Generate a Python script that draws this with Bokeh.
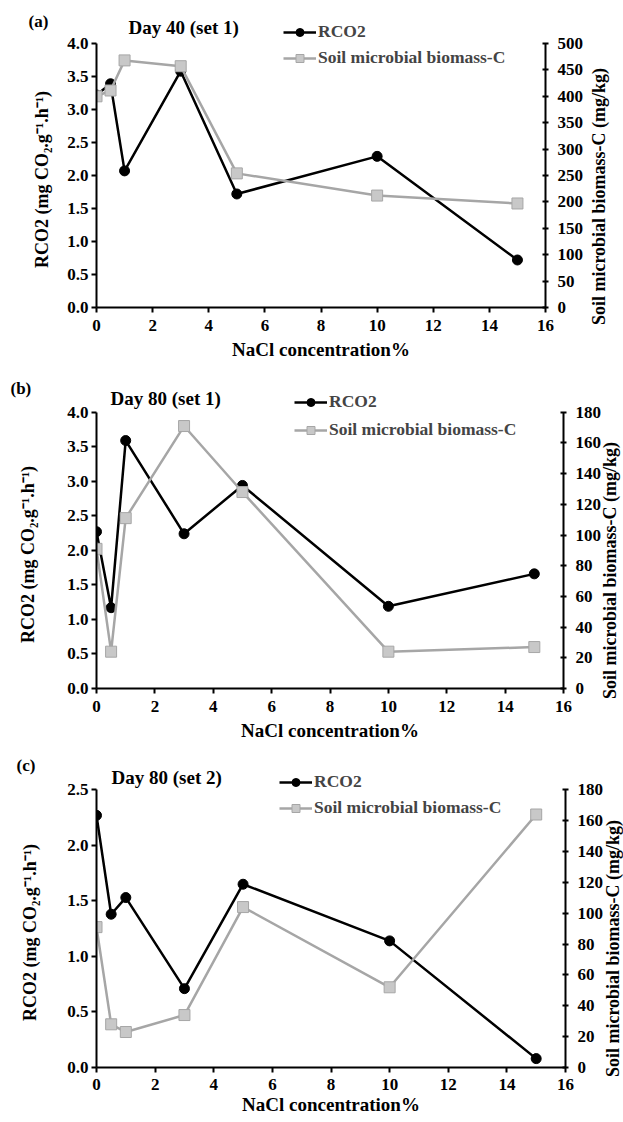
import math
from bokeh.plotting import figure
from bokeh.models import (LinearAxis, Range1d, Label, Legend, LegendItem,
                          FixedTicker, NumeralTickFormatter)
from bokeh.layouts import column
from bokeh.embed import file_html
from bokeh.resources import INLINE

FONT = "Liberation Serif"
GREY = "#a6a6a6"
GREY_FILL = "#c8c8c8"

# ---- data ----
nacl = [0, 0.5, 1, 3, 5, 10, 15]
rco2_a = [3.22, 3.39, 2.07, 3.58, 1.72, 2.29, 0.72]
smb_a = [400, 411, 468, 457, 254, 212, 197]
rco2_b = [2.27, 1.17, 3.59, 2.24, 2.94, 1.19, 1.66]
smb_b = [91, 24, 111, 171, 128, 24, 27]
rco2_c = [2.27, 1.38, 1.53, 0.71, 1.65, 1.14, 0.08]
smb_c = [91, 28, 23, 34, 104, 52, 164]

x_ticks = [0, 2, 4, 6, 8, 10, 12, 14, 16]
left_ticks_ab = [0.0, 0.5, 1.0, 1.5, 2.0, 2.5, 3.0, 3.5, 4.0]
left_ticks_c = [0.0, 0.5, 1.0, 1.5, 2.0, 2.5]
right_ticks_a = [0, 50, 100, 150, 200, 250, 300, 350, 400, 450, 500]
right_ticks_bc = [0, 20, 40, 60, 80, 100, 120, 140, 160, 180]

tags = ["(a)", "(b)", "(c)"]
titles = ["Day 40 (set 1)", "Day 80 (set 1)", "Day 80 (set 2)"]
series_names = ["RCO2", "Soil microbial biomass-C"]
x_label = "NaCl concentration%"
y_label = "RCO2 (mg CO\u2082.g\u207b\u00b9.h\u207b\u00b9)"
r_label = "Soil microbial biomass-C (mg/kg)"


def style_axis(ax, tick_in, tick_out, standoff):
    ax.axis_line_width = 2
    ax.axis_line_color = "black"
    ax.major_tick_line_width = 2
    ax.major_tick_line_color = "black"
    ax.major_tick_in = tick_in
    ax.major_tick_out = tick_out
    ax.minor_tick_line_color = None
    ax.major_label_standoff = standoff
    ax.major_label_text_font = FONT
    ax.major_label_text_font_style = "bold"
    ax.major_label_text_font_size = "17px"
    ax.major_label_text_color = "black"
    ax.axis_label_text_font = FONT
    ax.axis_label_text_font_style = "bold"
    ax.axis_label_text_font_size = "19px"
    ax.axis_label_text_color = "black"


def text_label(text, xy, size, **kw):
    return Label(x=xy[0], y=xy[1], x_units="screen", y_units="screen", text=text,
                 text_font=FONT, text_font_style="bold", text_font_size=size,
                 text_color="black", **kw)


def make_panel(rco2, smb, ymax, ytop, left_ticks, rmax, right_ticks, tag, title,
               fw, fh, bl, br, bt, bb, leg_xy, leg_spacing, title_xy, tag_xy,
               ylab_xy, rlab_xy, xtick_so, xlab_so):
    p = figure(frame_width=fw, frame_height=fh,
               min_border_left=bl, min_border_right=br,
               min_border_top=bt, min_border_bottom=bb,
               x_range=Range1d(0, 16), y_range=Range1d(0, ytop),
               output_backend="svg", toolbar_location=None)
    p.outline_line_color = None
    p.background_fill_color = "white"
    p.border_fill_color = "white"
    p.grid.visible = False
    p.extra_y_ranges = {"smb": Range1d(0, rmax * ytop / ymax)}

    l1 = p.line(nacl, rco2, line_color="black", line_width=2.5)
    s1 = p.scatter(nacl, rco2, marker="circle", size=10,
                   fill_color="black", line_color="black")
    l2 = p.line(nacl, smb, y_range_name="smb", line_color=GREY, line_width=2.5)
    s2 = p.scatter(nacl, smb, y_range_name="smb", marker="square", size=11,
                   fill_color=GREY_FILL, line_color=GREY, line_width=1)

    xa = p.xaxis[0]
    ya = p.yaxis[0]
    xa.ticker = FixedTicker(ticks=x_ticks)
    ya.ticker = FixedTicker(ticks=left_ticks)
    ya.formatter = NumeralTickFormatter(format="0.0")
    ya.bounds = (0, ymax)
    xa.axis_label = x_label
    ra = LinearAxis(y_range_name="smb", ticker=FixedTicker(ticks=right_ticks),
                    bounds=(0, rmax))
    p.add_layout(ra, "right")
    style_axis(xa, 0, 5, xtick_so)
    style_axis(ya, 0, 5, 3)
    style_axis(ra, 3, 3, 9)
    xa.axis_label_standoff = xlab_so

    legend = Legend(items=[LegendItem(label=series_names[0], renderers=[l1, s1]),
                           LegendItem(label=series_names[1], renderers=[l2, s2])],
                    location=leg_xy, orientation="vertical", padding=0, margin=0,
                    spacing=leg_spacing, glyph_width=33, glyph_height=20,
                    label_height=20, label_standoff=2, border_line_color=None,
                    background_fill_alpha=0, label_text_font=FONT,
                    label_text_font_style="bold", label_text_font_size="17.5px")
    p.add_layout(legend)

    p.add_layout(text_label(title, title_xy, "19px", text_baseline="middle"))
    p.add_layout(text_label(y_label, ylab_xy, "18px", text_baseline="middle",
                            text_align="center", angle=math.pi / 2), "left")
    p.add_layout(text_label(tag, tag_xy, "17px", text_baseline="middle"), "left")
    p.add_layout(text_label(r_label, rlab_xy, "18px", text_baseline="middle",
                            text_align="center", angle=math.pi / 2), "right")
    return p


pa = make_panel(rco2_a, smb_a, 4.0, 4.4697, left_ticks_ab, 500, right_ticks_a, tags[0], titles[0],
                fw=449, fh=295, bl=96, br=78, bt=12, bb=56,
                leg_xy=(187, 239), leg_spacing=5, title_xy=(32, 280), tag_xy=(4, 286),
                ylab_xy=(-3, 128), rlab_xy=(12, 111), xtick_so=7, xlab_so=5)
pb = make_panel(rco2_b, smb_b, 4.0, 4.416, left_ticks_ab, 180, right_ticks_bc, tags[1], titles[1],
                fw=467, fh=305, bl=82, br=74, bt=20, bb=56,
                leg_xy=(198, 248), leg_spacing=7, title_xy=(14, 290), tag_xy=(-13, 300),
                ylab_xy=(-17, 134), rlab_xy=(5, 118), xtick_so=7, xlab_so=5)
pc = make_panel(rco2_c, smb_c, 2.5, 2.746, left_ticks_c, 180, right_ticks_bc, tags[2], titles[2],
                fw=469, fh=305, bl=85, br=69, bt=18, bb=55,
                leg_xy=(183, 249), leg_spacing=5, title_xy=(15, 290), tag_xy=(-9, 302),
                ylab_xy=(-15, 135), rlab_xy=(6, 119), xtick_so=6, xlab_so=1)

layout = column(pa, pb, pc, spacing=0)
open("out.html", "w").write(file_html(layout, INLINE))
